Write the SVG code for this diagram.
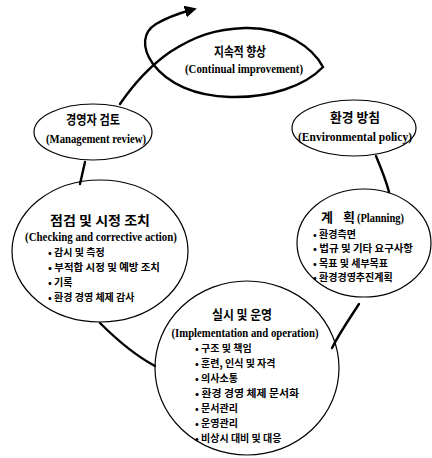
<svg xmlns="http://www.w3.org/2000/svg" width="432" height="458" viewBox="0 0 432 458">
<style>
.bg{fill:#fff}
.el{fill:none;stroke:#000;stroke-width:1.2}
.cn{fill:none;stroke:#000;stroke-width:2.4;stroke-linecap:round}
.ko{font-family:"Noto Sans CJK KR","Noto Sans",sans-serif;font-weight:bold;fill:#000}
.h{font-size:13px}
.b{font-size:10px}
.en{font-family:"Liberation Serif",serif;font-weight:bold;font-size:12px;fill:#000}
</style>
<defs>
<marker id="ah" viewBox="0 0 10 10" refX="5" refY="5" markerWidth="5" markerHeight="5" orient="auto">
<path d="M0,0 L10,5 L0,10 z" fill="#000"/>
</marker>
</defs>
<rect class="bg" width="432" height="458"/>
<g id="connectors">
<path class="cn" d="M120,104 C135,82 150,66 170,52 C195,36 215,29 245,28 C285,27 313,48 323,67 C305,86 270,98 230,97 C195,96 168,84 153,64 C141,47 143,32 156,24 C168,17 180,13 191,10" marker-end="url(#ah)"/>
<path class="cn" d="M85,162 L80,184"/>
<path class="cn" d="M376,156 C381,168 386,180 389,192"/>
<path class="cn" d="M100,323 C120,343 140,358 155,366"/>
<path class="cn" d="M359,304 C350,318 340,332 332,348"/>
</g>
<g id="continual">
<text class="ko h" x="240" y="56" text-anchor="middle" textLength="52" lengthAdjust="spacingAndGlyphs">지속적 향상</text>
<text class="en" x="244" y="73" text-anchor="middle" textLength="118" lengthAdjust="spacingAndGlyphs">(Continual improvement)</text>
</g>
<g id="review">
<ellipse class="el" cx="93" cy="132" rx="59" ry="28"/>
<text class="ko h" x="93" y="124" text-anchor="middle" textLength="54" lengthAdjust="spacingAndGlyphs">경영자 검토</text>
<text class="en" x="96" y="143" text-anchor="middle" textLength="100" lengthAdjust="spacingAndGlyphs">(Management review)</text>
</g>
<g id="policy">
<ellipse class="el" cx="354" cy="128" rx="62" ry="28"/>
<text class="ko h" x="355" y="122" text-anchor="middle" textLength="50" lengthAdjust="spacingAndGlyphs">환경 방침</text>
<text class="en" x="355" y="141" text-anchor="middle" textLength="114" lengthAdjust="spacingAndGlyphs">(Environmental policy)</text>
</g>
<g id="checking">
<ellipse class="el" cx="100" cy="251" rx="88" ry="71"/>
<text class="ko h" x="100" y="225" text-anchor="middle" textLength="100" lengthAdjust="spacingAndGlyphs">점검 및 시정 조치</text>
<text class="en" x="101" y="241" text-anchor="middle" textLength="152" lengthAdjust="spacingAndGlyphs">(Checking and corrective action)</text>
<text class="ko b" x="48" y="256">• 감시 및 측정</text>
<text class="ko b" x="48" y="271" textLength="112" lengthAdjust="spacingAndGlyphs">• 부적합 시정 및 예방 조치</text>
<text class="ko b" x="48" y="286">• 기록</text>
<text class="ko b" x="48" y="301">• 환경 경영 체제 감사</text>
</g>
<g id="planning">
<ellipse class="el" cx="364" cy="243" rx="67" ry="54"/>
<text class="ko h" x="321" y="222">계</text>
<text class="ko h" x="343" y="222">획</text>
<text class="en" x="357" y="222" textLength="47" lengthAdjust="spacingAndGlyphs">(Planning)</text>
<text class="ko b" x="313" y="237.5">• 환경측면</text>
<text class="ko b" x="313" y="252" textLength="100" lengthAdjust="spacingAndGlyphs">• 법규 및 기타 요구사항</text>
<text class="ko b" x="313" y="266.5">• 목표 및 세부목표</text>
<text class="ko b" x="313" y="281">• 환경경영추진계획</text>
</g>
<g id="implementation">
<ellipse class="el" cx="247" cy="368" rx="92" ry="87"/>
<text class="ko h" x="242" y="319" text-anchor="middle" textLength="60" lengthAdjust="spacingAndGlyphs">실시 및 운영</text>
<text class="en" x="245" y="337" text-anchor="middle" textLength="147" lengthAdjust="spacingAndGlyphs">(Implementation and operation)</text>
<text class="ko b" x="195" y="352">• 구조 및 책임</text>
<text class="ko b" x="195" y="367">• 훈련, 인식 및 자격</text>
<text class="ko b" x="195" y="382">• 의사소통</text>
<text class="ko b" x="195" y="397" textLength="104" lengthAdjust="spacingAndGlyphs">• 환경 경영 체제 문서화</text>
<text class="ko b" x="195" y="412">• 문서관리</text>
<text class="ko b" x="195" y="427">• 운영관리</text>
<text class="ko b" x="195" y="442">• 비상시 대비 및 대응</text>
</g>
</svg>
